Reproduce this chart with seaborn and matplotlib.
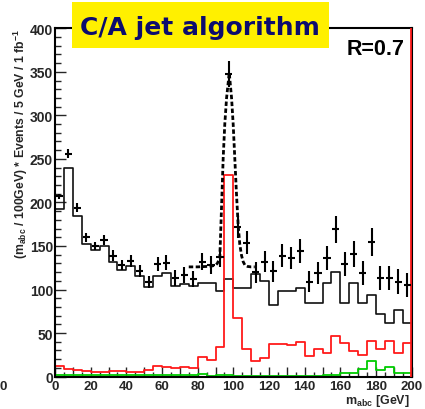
import numpy as np
import pandas as pd
import seaborn as sns
import matplotlib
matplotlib.use('Agg')
import matplotlib.pyplot as plt
from matplotlib.patches import Rectangle
from matplotlib.ticker import MultipleLocator

# bins of 5 GeV from 0 to 200
edges = list(range(0, 201, 5))
centers = [e + 2.5 for e in edges[:-1]]

# background (black), signal (red), other (green) histograms
black_vals = [192, 240, 185, 152, 145, 150, 132, 122, 127, 116,
              103, 115, 119, 104, 106, 104, 107, 108, 98, 112,
              102, 102, 118, 110, 82, 98, 98, 102, 85, 85,
              107, 120, 84, 108, 84, 94, 72, 61, 77, 61]
red_vals = [12.6, 8.8, 7.6, 6.1, 5.7, 5.7, 6.5, 6.5, 5.7, 4.9,
            8.0, 12.6, 11.5, 10.3, 11.0, 10.3, 22.2, 19.1, 33.7, 231.6,
            67.0, 31.8, 18.3, 21.0, 37.6, 37.6, 36.4, 39.5, 24.0, 31.8,
            26.8, 46.4, 38.7, 29.9, 24.9, 41.4, 31.8, 40.7, 26.8, 38.7]
green_vals = [1.5, 1.5, 1.5, 1.5, 1.5, 1.5, 1.5, 1.5, 1.5, 1.5,
              1.5, 1.5, 1.5, 1.5, 1.5, 1.5, 3.0, 1.2, 1.5, 1.5,
              1.0, 1.2, 1.2, 1.2, 1.2, 1.2, 1.2, 1.2, 1.2, 1.2,
              1.5, 2.0, 4.0, 4.0, 8.7, 17.6, 7.6, 10.7, 4.0, 4.0]

# pseudo data with errors
data_vals = [207, 256, 194, 160, 150, 157, 139, 128, 133, 121,
             109, 129, 131, 113, 117, 112, 132, 128, 137, 348,
             172, 154, 120, 132, 121, 139, 136, 144, 109, 119,
             136, 169, 129, 141, 119, 155, 113, 113, 109, 105]
data_err = [3, 5, 5, 5, 5, 6, 6, 6, 7, 7,
            7, 8, 9, 9, 9, 9, 10, 10, 11, 15,
            13, 13, 12, 12, 12, 13, 13, 14, 12, 13,
            14, 16, 14, 15, 14, 16, 14, 14, 14, 14]

# dashed fit curve
fit_m = [75, 80, 85, 88, 90, 91, 92.4, 93.3, 94.3, 95.2, 96.2, 97.7,
         99, 99.9, 100.8, 101.7, 102.7, 103.6, 104.6, 105.5, 106.5, 108, 110, 112]
fit_v = [126, 126, 126.5, 127, 128, 130, 136, 190, 251, 290, 320, 349,
         320, 290, 251, 212, 174, 152, 139, 132, 128, 126.5, 126, 126]

xtick_vals = list(range(0, 201, 10))
xtick_labels = ['0', '', '20', '', '40', '', '60', '', '80', '', '100', '',
                '120', '', '140', '', '160', '', '180', '', '200']
ytick_vals = [0, 50, 100, 150, 200, 250, 300, 350, 400]

hist_df = pd.DataFrame({'m': centers, 'bkg': black_vals, 'sig': red_vals,
                        'oth': green_vals})

sns.set_theme(style='ticks')
plt.rcParams['font.family'] = ['Liberation Sans', 'DejaVu Sans']
plt.rcParams['font.weight'] = 'bold'
plt.rcParams['mathtext.fontset'] = 'custom'
plt.rcParams['mathtext.rm'] = 'Liberation Sans:bold'
plt.rcParams['mathtext.bf'] = 'Liberation Sans:bold'
plt.rcParams['mathtext.it'] = 'Liberation Sans:bold'

fig = plt.figure(figsize=(4.25, 4.10), dpi=100)
ax = fig.add_axes([55/425, 32.4/410, 356.7/425, 348.3/410])

sns.histplot(data=hist_df, x='m', weights='bkg', bins=edges, element='step',
             fill=False, color='#111111', linewidth=1.2, ax=ax)
sns.histplot(data=hist_df, x='m', weights='sig', bins=edges, element='step',
             fill=False, color='#ff1a1a', linewidth=1.3, ax=ax)
sns.histplot(data=hist_df, x='m', weights='oth', bins=edges, element='step',
             fill=False, color='#00cc00', linewidth=1.3, ax=ax)

ax.errorbar(centers, data_vals, yerr=data_err, xerr=2, fmt='none',
            ecolor='black', elinewidth=1.5, capsize=0, zorder=5)
sns.lineplot(x=fit_m, y=fit_v, sort=False, color='black', linewidth=2.0,
             linestyle=(0, (1.6, 0.9)), ax=ax, zorder=6)

# red frame line at right edge
ax.axvline(199.5, color='#ff1a1a', lw=1.3, zorder=4)

ax.set_xlim(0, 200)
ax.set_ylim(0, 400)
ax.set_xlabel('')
ax.set_ylabel('')
ax.set_xticks(xtick_vals)
ax.set_xticklabels(xtick_labels)
ax.xaxis.set_minor_locator(MultipleLocator(5))
ax.set_yticks(ytick_vals)
ax.yaxis.set_minor_locator(MultipleLocator(10))
ax.tick_params(axis='x', which='major', direction='in', length=7, width=1,
               labelsize=9.5, pad=2.5, top=False)
ax.tick_params(axis='x', which='minor', direction='in', length=3.5, width=1, top=False)
ax.tick_params(axis='y', which='major', direction='in', length=8, width=1,
               labelsize=10, pad=1.5, right=False)
ax.tick_params(axis='y', which='minor', direction='in', length=4, width=1, right=False)
for lab in ax.get_xticklabels() + ax.get_yticklabels():
    lab.set_fontweight('bold')
for sp in ax.spines.values():
    sp.set_visible(True)
    sp.set_linewidth(1.5)
    sp.set_color('black')
ax.set_facecolor('white')

# axis titles
fig.text(410/425, 1 - 409/410, r'm$_{\mathbf{abc}}$ [GeV]', ha='right', va='bottom',
         fontsize=9, fontweight='bold')
fig.text(21/425, 1 - 29/410,
         r'(m$_{\mathbf{abc}}$ / 100GeV) * Events / 5 GeV / 1 fb$^{\mathbf{-1}}$',
         rotation=90, ha='center', va='top', fontsize=8.8, fontweight='bold')

# title box
fig.patches.append(Rectangle((72/425, 1 - 49/410), 257/425, 46/410,
                             transform=fig.transFigure, facecolor='#fff000',
                             edgecolor='none', zorder=5))
fig.text(200/425, 1 - 35/410, 'C/A jet algorithm', ha='center', va='baseline',
         fontsize=18, fontweight='bold', color='#0c0c6e', family='DejaVu Sans',
         zorder=6)
fig.text(405/425, 1 - 55/410, 'R=0.7', ha='right', va='baseline',
         fontsize=15.5, fontweight='bold', color='black')
fig.text(3/425, 1 - 387/410, '0', ha='center', va='center',
         fontsize=9.5, fontweight='bold')

fig.savefig('out.png', dpi=100, facecolor='white')
